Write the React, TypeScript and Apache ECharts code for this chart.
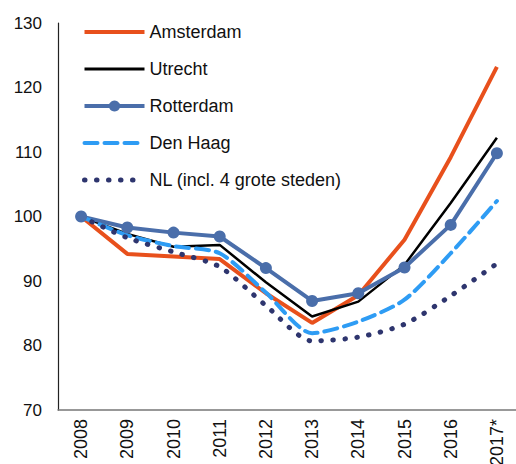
import React, { useEffect, useRef } from "react";
import * as echarts from "echarts";

const years = ["2008", "2009", "2010", "2011", "2012", "2013", "2014", "2015", "2016", "2017*"];
const amsterdam = [100, 94.2, 93.8, 93.4, 88.1, 83.5, 87.8, 96.4, 109.2, 123.2];
const utrecht = [100, 97.3, 95.3, 95.6, 89.8, 84.5, 86.8, 92.5, 102.1, 112.2];
const rotterdam = [100, 98.3, 97.5, 96.9, 92.0, 86.9, 88.1, 92.1, 98.7, 109.8];
const denHaag = [100, 97.1, 95.4, 94.3, 88.2, 81.9, 83.7, 87.1, 94.3, 102.4];
const nl = [100, 96.7, 94.5, 92.2, 86.2, 80.7, 81.3, 83.3, 87.7, 92.7];
const seriesNames = ["Amsterdam", "Utrecht", "Rotterdam", "Den Haag", "NL (incl. 4 grote steden)"];
const yTicks = { min: 70, max: 130, interval: 10 };

export default function App() {
  const ref = useRef<HTMLDivElement>(null);
  useEffect(() => {
    if (!ref.current) return;
    const chart = echarts.init(ref.current, null, { renderer: "svg" });
    const font = "Liberation Sans, Arial, sans-serif";
    const legendWidths = [4, 3, 4, 4, 5];
    chart.setOption({
      animation: false,
      textStyle: { fontFamily: font },
      grid: { left: 58, top: 23, bottom: 54, right: -4, outerBoundsMode: "none", containLabel: false },
      legend: {
        orient: "vertical",
        left: 77,
        top: 18,
        itemWidth: 60,
        itemHeight: 14,
        itemGap: 19,
        textStyle: { fontSize: 18, color: "#111", fontFamily: font },
        data: seriesNames.map((n, i) =>
          n === "Rotterdam"
            ? { name: n, lineStyle: { width: legendWidths[i] } }
            : { name: n, itemStyle: { opacity: 0 }, lineStyle: { width: legendWidths[i] } }
        ),
      },
      xAxis: {
        type: "category",
        data: years,
        boundaryGap: true,
        axisTick: { show: false },
        axisLine: { lineStyle: { color: "#777", width: 1.5 } },
        axisLabel: { rotate: 90, fontSize: 18, color: "#111", margin: 9, fontFamily: font },
      },
      yAxis: {
        type: "value",
        min: yTicks.min,
        max: yTicks.max,
        interval: yTicks.interval,
        splitLine: { show: false },
        axisTick: { show: false },
        axisLine: { show: true, lineStyle: { color: "#222", width: 1.2 } },
        axisLabel: { fontSize: 17, color: "#111", margin: 16, fontFamily: font },
      },
      series: [
        {
          name: seriesNames[0],
          type: "line",
          data: amsterdam,
          symbol: "none",
          lineStyle: { color: "#E8501C", width: 4 },
          itemStyle: { color: "#E8501C" },
        },
        {
          name: seriesNames[1],
          type: "line",
          data: utrecht,
          symbol: "none",
          lineStyle: { color: "#000", width: 2.5 },
          itemStyle: { color: "#000" },
        },
        {
          name: seriesNames[2],
          type: "line",
          data: rotterdam,
          symbol: "circle",
          symbolSize: 12,
          lineStyle: { color: "#4A6EAA", width: 4 },
          itemStyle: { color: "#4A6EAA" },
        },
        {
          name: seriesNames[3],
          type: "line",
          data: denHaag,
          symbol: "none",
          smooth: 0.25,
          lineStyle: { color: "#2E9CF4", width: 4, type: [13, 7], cap: "round" },
          itemStyle: { color: "#2E9CF4" },
        },
        {
          name: seriesNames[4],
          type: "line",
          data: nl,
          symbol: "none",
          smooth: 0.25,
          lineStyle: { color: "#2E356E", width: 5, type: [0.5, 11.5], cap: "round" },
          itemStyle: { color: "#2E356E" },
        },
      ],
    });
    return () => chart.dispose();
  }, []);
  return <div ref={ref} style={{ width: 516, height: 464, position: "absolute", left: 0, top: 0 }} />;
}
